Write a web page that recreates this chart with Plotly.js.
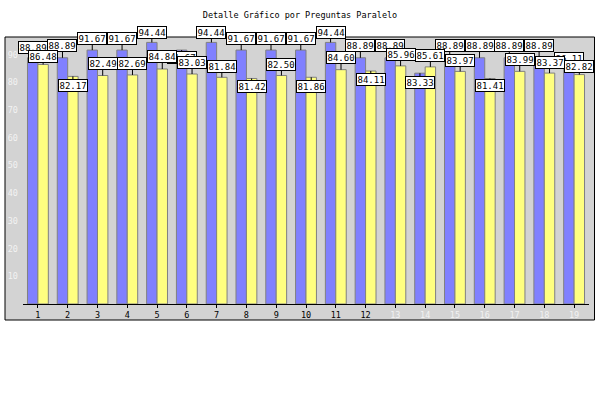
<!DOCTYPE html>
<html>
<head>
<meta charset="utf-8">
<script src="https://cdn.plot.ly/plotly-3.0.1.min.js"></script>
<style>html,body{margin:0;padding:0;background:#fff;}#chart{width:600px;height:400px;}</style>
</head>
<body>
<div id="chart"></div>
<script>
// ---- data ----
const categories = [1,2,3,4,5,6,7,8,9,10,11,12,13,14,15,16,17,18,19];
const tickLabels = ["1","2","3","4","5","6","7","8","9","10","11","12","13","14","15","16","17","18","19"];
const blueValues = [88.89,88.89,91.67,91.67,94.44,91.67,94.44,91.67,91.67,91.67,94.44,88.89,88.89,83.33,88.89,88.89,88.89,88.89,86.11];
const yellowValues = [86.48,82.17,82.49,82.69,84.84,83.03,81.84,81.42,82.50,81.86,84.60,84.11,85.96,85.61,83.97,81.41,83.99,83.37,82.82];
const yTicks = [10,20,30,40,50,60,70,80,90];

// ---- label placement (pixel offsets of label box centre from bar top) ----
const blueLabelShift = [-10,-12,-12,-12,-10,7,-10,-12,-12,-12,-10,-12,-12,9,-12,-12,-12,-12,-7];
const yellowLabelShift = [-8,9,-12,-11,-12,-12,-11,8,-11,9,-12,8,-11,-11,-11,7,-12,-11,-8];

const BLUE = '#8080ff', YELLOW = '#ffff80', EDGE = '#808080';
const BW = 0.35; // single bar width (bargap 0.3, two bars per group)

const traces = [
  {type:'bar', x:categories, y:blueValues, marker:{color:BLUE, line:{color:EDGE, width:1}}, hoverinfo:'none'},
  {type:'bar', x:categories, y:yellowValues, marker:{color:YELLOW, line:{color:EDGE, width:1}}, hoverinfo:'none'}
];

const fmt = v => v.toFixed(2);
const annotations = [];
function addLabels(vals, shifts, dx){
  vals.forEach((v,i)=>{
    annotations.push({
      x: categories[i] + dx, y: v, xref:'x', yref:'y',
      text: fmt(v), showarrow:true, arrowhead:0, arrowwidth:1, arrowcolor:'#000',
      ax:0, ay:shifts[i], standoff:0,
      font:{family:'DejaVu Sans Mono', size:9, color:'#000'},
      bgcolor:'#fff', bordercolor:'#000', borderwidth:1, borderpad:0.5
    });
  });
}
addLabels(blueValues, blueLabelShift, -BW/2);
addLabels(yellowValues, yellowLabelShift, BW/2);

const tickText = tickLabels.map((t,i)=> i<12 ? t : '<span style="color:#f2f2f2">'+t+'</span>');

const L=23, R=11, T=27, B=96, PW=600-L-R, PH=400-T-B;
const layout = {
  width:600, height:400,
  margin:{l:L, r:R, t:T, b:B, pad:0},
  paper_bgcolor:'#ffffff', plot_bgcolor:'rgba(0,0,0,0)',
  showlegend:false,
  barmode:'group', bargap:0.3, bargroupgap:0,
  title:{text:'Detalle Gráfico por Preguntas Paralelo', font:{family:'DejaVu Sans Mono', size:8.5, color:'#000'},
         xref:'container', yref:'container', x:0.5, xanchor:'center', y:1-15/400, yanchor:'middle'},
  xaxis:{range:[0.5,19.5], tickvals:categories, ticktext:tickText, showline:true, linecolor:'#000', linewidth:1,
         ticks:'outside', ticklen:3, tickcolor:'#000', showgrid:false, zeroline:false,
         tickfont:{family:'DejaVu Sans Mono', size:8.5, color:'#000'}, fixedrange:true},
  yaxis:{range:[0,100], tickvals:yTicks, ticktext:yTicks.map(String), showline:false, ticks:'', showgrid:false, zeroline:false,
         ticklabelstandoff:4,
         tickfont:{family:'DejaVu Sans Mono', size:8.5, color:'#f2f2f2'}, fixedrange:true},
  shapes:[{type:'rect', xref:'paper', yref:'paper', layer:'below',
           x0:(5-L)/PW, x1:(594.5-L)/PW, y0:(PH-(320-T))/PH, y1:(PH-(37-T))/PH,
           fillcolor:'#d3d3d3', line:{color:'#000', width:1}}],
  annotations:annotations
};

Plotly.newPlot('chart', traces, layout, {staticPlot:true, displayModeBar:false});
</script>
</body>
</html>
